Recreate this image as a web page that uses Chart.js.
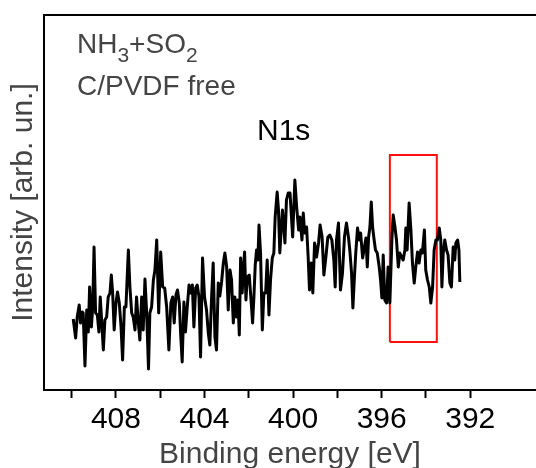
<!DOCTYPE html>
<html>
<head>
<meta charset="utf-8">
<script src="https://cdn.jsdelivr.net/npm/chart.js@4.4.1/dist/chart.umd.min.js"></script>
<style>
  body { margin: 0; background: #fff; }
  #wrap { width: 536px; height: 468px; }
</style>
</head>
<body>
<div id="wrap"><canvas id="xpsChart" width="536" height="468"></canvas></div>
<script>
// N1s 스펙트럼
var energy = [
  409.93, 409.82, 409.75, 409.66, 409.60, 409.52, 409.48, 409.40, 409.32, 409.25,
  409.19, 409.11, 409.05, 408.99, 408.92, 408.84, 408.77, 408.71, 408.63, 408.57,
  408.50, 408.42, 408.35, 408.27, 408.21, 408.15, 408.08, 408.00, 407.93, 407.85,
  407.77, 407.70, 407.62, 407.55, 407.44, 407.37, 407.29, 407.22, 407.14, 407.07,
  406.99, 406.92, 406.84, 406.77, 406.69, 406.62, 406.53, 406.47, 406.39, 406.31,
  406.24, 406.16, 406.07, 405.98, 405.89, 405.80, 405.71, 405.61, 405.52, 405.44,
  405.37, 405.29, 405.22, 405.14, 405.08, 405.01, 404.93, 404.86, 404.78, 404.70,
  404.63, 404.55, 404.48, 404.40, 404.33, 404.25, 404.18, 404.09, 404.00, 403.91,
  403.83, 403.76, 403.68, 403.61, 403.53, 403.46, 403.38, 403.31, 403.23, 403.15,
  403.08, 403.00, 402.93, 402.85, 402.78, 402.70, 402.63, 402.55, 402.49, 402.43,
  402.37, 402.30, 402.24, 402.19, 402.13, 402.07, 401.98, 401.89, 401.83, 401.77,
  401.71, 401.65, 401.59, 401.54, 401.47, 401.39, 401.32, 401.24, 401.17, 401.09,
  401.02, 400.94, 400.87, 400.81, 400.72, 400.66, 400.60, 400.54, 400.48, 400.42,
  400.37, 400.30, 400.22, 400.14, 400.02, 399.92, 399.84, 399.75, 399.69, 399.60,
  399.54, 399.48, 399.39, 399.32, 399.26, 399.18, 399.11, 399.03, 398.94, 398.85,
  398.78, 398.69, 398.61, 398.52, 398.43, 398.34, 398.25, 398.16, 398.10, 398.04,
  397.95, 397.86, 397.77, 397.68, 397.59, 397.50, 397.44, 397.36, 397.30, 397.23,
  397.17, 397.09, 397.01, 396.95, 396.86, 396.80, 396.71, 396.65, 396.59, 396.53,
  396.47, 396.41, 396.34, 396.28, 396.20, 396.11, 396.05, 395.99, 395.93, 395.86,
  395.78, 395.71, 395.63, 395.54, 395.48, 395.40, 395.33, 395.25, 395.18, 395.10,
  395.03, 394.95, 394.91, 394.85, 394.76, 394.68, 394.61, 394.53, 394.46, 394.38,
  394.31, 394.23, 394.16, 394.07, 394.01, 393.93, 393.85, 393.78, 393.70, 393.63,
  393.55, 393.48, 393.40, 393.33, 393.28, 393.22, 393.15, 393.07, 393.00, 392.92,
  392.85, 392.77, 392.70, 392.65, 392.57, 392.51, 392.47
];
var intensity = [
  71, 52, 73, 85, 67, 78, 77, 24, 80, 58,
  103, 63, 83, 143, 77, 75, 58, 93, 63, 40,
  70, 73, 93, 97, 115, 97, 60, 87, 98, 87,
  63, 30, 83, 83, 140, 103, 77, 73, 60, 93,
  67, 50, 93, 60, 111, 80, 21, 77, 83, 110,
  120, 150, 77, 138, 103, 102, 83, 40, 87, 93,
  67, 95, 100, 87, 57, 28, 88, 58, 83, 105,
  97, 105, 63, 102, 105, 93, 33, 132, 93, 80,
  57, 45, 93, 127, 53, 40, 107, 94, 108, 127,
  137, 123, 80, 120, 110, 67, 93, 73, 90, 55,
  132, 97, 123, 138, 90, 113, 115, 87, 67, 93,
  125, 140, 130, 165, 137, 60, 97, 97, 130, 75,
  110, 132, 137, 173, 198, 180, 137, 160, 180, 163,
  147, 190, 197, 197, 153, 210, 183, 160, 173, 150,
  177, 157, 163, 133, 100, 127, 97, 147, 133, 147,
  165, 153, 115, 133, 153, 155, 150, 130, 103, 150,
  167, 100, 117, 153, 167, 153, 140, 117, 82, 113,
  137, 162, 150, 157, 132, 140, 152, 123, 153, 163,
  188, 163, 150, 140, 137, 123, 110, 92, 135, 90,
  87, 123, 87, 150, 175, 163, 150, 123, 137, 133,
  130, 140, 162, 140, 187, 160, 127, 107, 123, 138,
  127, 140, 137, 160, 120, 110, 103, 87, 103, 140,
  150, 150, 162, 150, 103, 137, 150, 140, 135, 107,
  103, 143, 130, 147, 150, 140, 108
];

// 축 범위와 눈금
var xRange = [389.03, 411.25];
var yRange = [0, 375];
var xTicks = [410, 408, 406, 404, 402, 400, 398, 396, 394, 392];
var xLabeled = [408, 404, 400, 396, 392];

// 빨간 사각형 (eV, 강도)
var boxEnergy = [395.63, 395.63, 393.51, 393.51, 395.63];
var boxIntensity = [48, 235, 235, 48, 48];

function toPoints(xs, ys) {
  return xs.map(function (x, i) { return { x: x, y: ys[i] }; });
}

// 위쪽 테두리와 글씨
var framePlugin = {
  id: 'frameText',
  afterDraw: function (chart) {
    var ctx = chart.ctx;
    var a = chart.chartArea;
    ctx.save();
    ctx.strokeStyle = '#000';
    ctx.lineWidth = 2;
    ctx.beginPath();
    ctx.moveTo(a.left - 1, a.top);
    ctx.lineTo(a.right + 1, a.top);
    ctx.stroke();

    ctx.textBaseline = 'alphabetic';
    ctx.textAlign = 'left';
    ctx.fillStyle = '#444';
    var x = 77;
    var parts = [['NH', 28, 0], ['3', 21, 9], ['+SO', 28, 0], ['2', 21, 9]];
    parts.forEach(function (p) {
      ctx.font = p[1] + 'px "Liberation Sans", Arial, sans-serif';
      ctx.fillText(p[0], x, 53 + p[2]);
      x += ctx.measureText(p[0]).width;
    });
    ctx.font = '28px "Liberation Sans", Arial, sans-serif';
    ctx.fillText('C/PVDF free', 77, 95);
    ctx.fillStyle = '#000';
    ctx.font = '30px "Liberation Sans", Arial, sans-serif';
    ctx.fillText('N1s', 257, 140);
    ctx.restore();
  }
};

var ctx = document.getElementById('xpsChart').getContext('2d');
var chart = new Chart(ctx, {
  type: 'scatter',
  data: {
    datasets: [{
      data: toPoints(energy, intensity),
      showLine: true,
      borderColor: '#000',
      borderWidth: 3,
      borderJoinStyle: 'round',
      pointRadius: 0,
      tension: 0
    }, {
      data: toPoints(boxEnergy, boxIntensity),
      showLine: true,
      borderColor: '#ff1010',
      borderWidth: 2,
      pointRadius: 0,
      tension: 0
    }]
  },
  options: {
    responsive: false,
    animation: false,
    layout: { padding: { top: 15, right: 0, left: 0, bottom: 0 } },
    plugins: {
      legend: { display: false },
      tooltip: { enabled: false }
    },
    scales: {
      x: {
        type: 'linear',
        reverse: true,
        min: xRange[0],
        max: xRange[1],
        afterBuildTicks: function (axis) {
          axis.ticks = xTicks.map(function (v) { return { value: v }; });
        },
        afterFit: function (axis) { axis.height = 78; },
        ticks: {
          autoSkip: false,
          maxRotation: 0,
          padding: 4,
          color: '#000',
          font: { family: '"Liberation Sans", Arial, sans-serif', size: 30 },
          callback: function (v) { return xLabeled.indexOf(v) >= 0 ? String(v) : ''; }
        },
        grid: {
          drawOnChartArea: false,
          drawTicks: true,
          tickLength: 8,
          tickWidth: 2,
          tickColor: '#000'
        },
        border: { display: true, color: '#000', width: 2 },
        title: {
          display: true,
          text: 'Binding energy [eV]',
          color: '#444',
          padding: { top: 0, bottom: -5 },
          font: { family: '"Liberation Sans", Arial, sans-serif', size: 30 }
        }
      },
      y: {
        min: yRange[0],
        max: yRange[1],
        afterFit: function (axis) { axis.width = 44; },
        ticks: { display: false },
        grid: { display: false },
        border: { display: true, color: '#000', width: 2 },
        title: {
          display: true,
          text: 'Intensity [arb. un.]',
          color: '#444',
          padding: { top: 6, bottom: 0 },
          font: { family: '"Liberation Sans", Arial, sans-serif', size: 30 }
        }
      }
    }
  },
  plugins: [framePlugin]
});
</script>
</body>
</html>
